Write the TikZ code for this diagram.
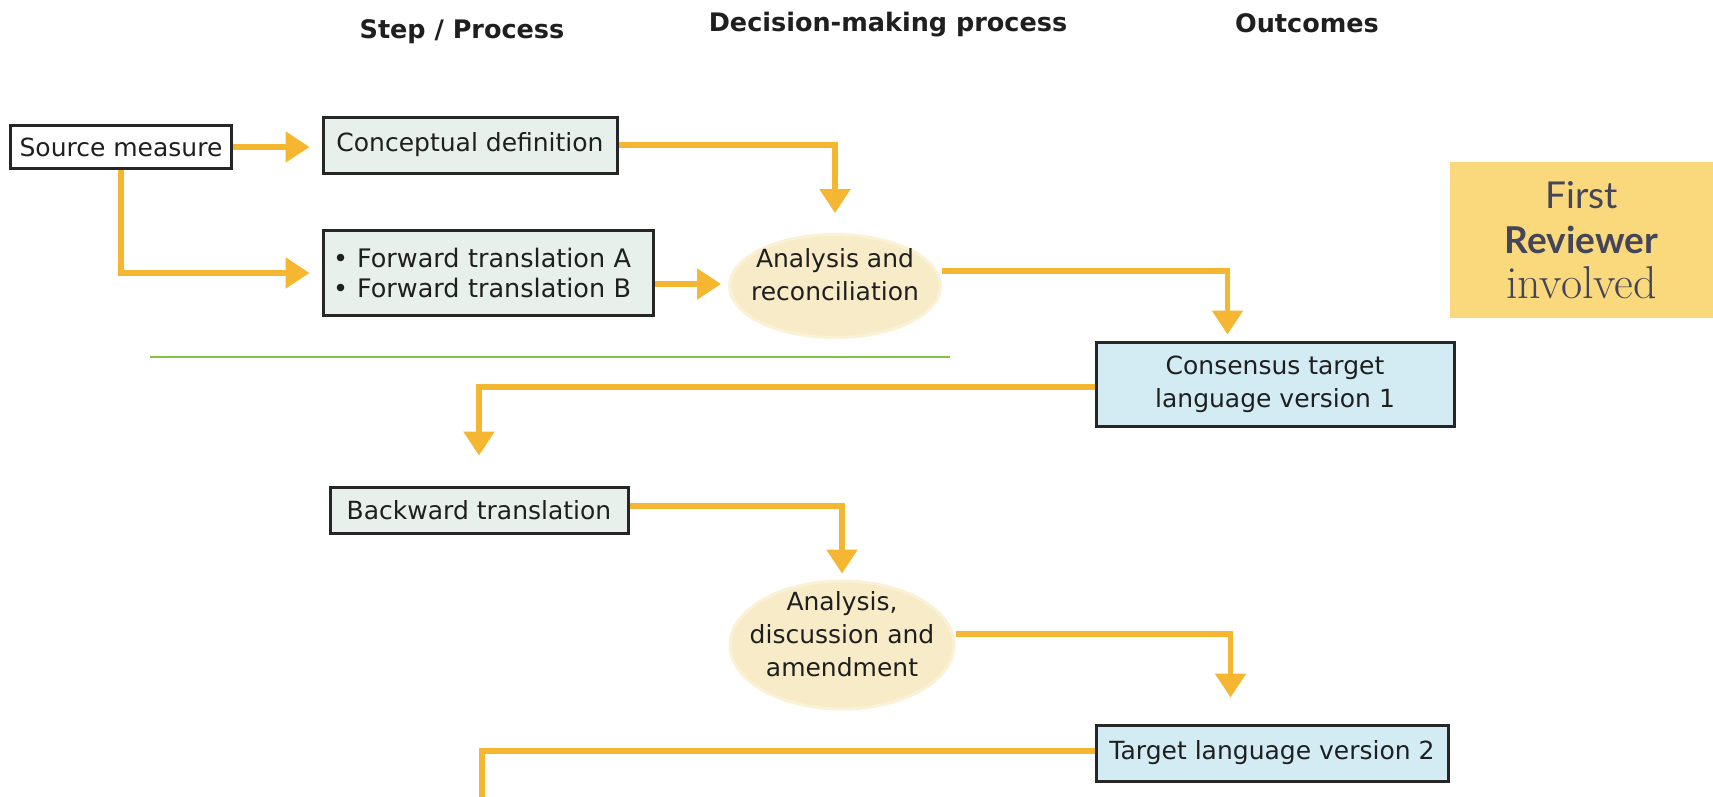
\documentclass[tikz,border=0pt]{standalone}
\usepackage{fontspec}
\newfontfamily\dv{DejaVu Sans}
\newfontfamily\gill{Lato}
\usetikzlibrary{arrows.meta,calc,shapes.geometric}
\definecolor{arr}{HTML}{F5B731}
\definecolor{stepfill}{HTML}{E7F0EB}
\definecolor{outfill}{HTML}{D3ECF4}
\definecolor{ellfill}{HTML}{F8ECC8}
\definecolor{revfill}{HTML}{F9D97C}
\definecolor{revtext}{HTML}{45455A}
\definecolor{grn}{HTML}{84C441}
\begin{document}
\begin{tikzpicture}[x=1pt,y=-1pt,
  body/.style={font=\dv\fontsize{25}{33}\selectfont, text=black!88},
  stepbox/.style={body, draw=black!85, line width=3pt, fill=stepfill, inner sep=0pt},
  outbox/.style={body, draw=black!85, line width=3pt, fill=outfill, inner sep=0pt, align=center},
  decell/.style={ellipse, fill=ellfill, draw=ellfill!75, line width=3pt, inner sep=0pt},
  elltext/.style={body, align=center, inner sep=0pt},
  header/.style={font=\dv\bfseries\fontsize{25.5}{30}\selectfont, text=black!88},
  flow/.style={draw=arr, line width=5.5pt, -{Triangle[width=30pt,length=24pt]}},
  flowline/.style={draw=arr, line width=5.5pt}
]
\useasboundingbox[fill=white] (0,0) rectangle (1713,796);

% headers
\node[header] (h1) at (462,32) {Step / Process};
\node[header] (h2) at (888,25) {Decision-making process};
\node[header] (h3) at (1307,23) {Outcomes};

% nodes
\node[stepbox, fill=white, minimum width=221pt, minimum height=43pt] (src) at (121,147) {Source measure};
\node[stepbox, minimum width=294pt, minimum height=56pt] (cd) at (470,145) {Conceptual definition};
\node[stepbox, font=\dv\fontsize{25.5}{30}\selectfont, text width=310pt, inner xsep=10pt, minimum height=85pt, align=left] (ft) at (488,273)
  {\textbullet\hspace{9pt}Forward translation A\\ \textbullet\hspace{9pt}Forward translation B};
\node[decell, minimum width=211pt, minimum height=103pt] (e1) at (835,286) {};
\node[elltext] (e1t) at (835,275) {Analysis and\\reconciliation};
\node[outbox, minimum width=358pt, minimum height=84pt] (cons) at (1275,384) {Consensus target\\language version 1};
\node[stepbox, minimum width=298pt, minimum height=46pt] (bt) at (479,510) {Backward translation};
\node[decell, minimum width=224pt, minimum height=128pt] (e2) at (842,645) {};
\node[elltext] (e2t) at (842,634) {Analysis,\\discussion and\\amendment};
\node[outbox, minimum width=352pt, minimum height=56pt] (t2) at (1272,753) {Target language version 2};

\node[fill=revfill, minimum width=263pt, minimum height=156pt, inner sep=0pt, align=center, text=revtext,
      font=\fontsize{37}{45}\selectfont] (rev) at (1581.5,240)
  {{\gill First}\\{\gill\bfseries Reviewer}\\{\rmfamily\fontsize{46}{45}\selectfont involved}};

% green rule
\coordinate (g1) at (150,357);
\coordinate (g2) at (950,357);
\draw[grn, line width=1.5pt] (g1) -- (g2);

% connectors
\draw[flow, shorten >=12pt] (src.east) -- (src.east -| cd.west);
\draw[flow, shorten >=12pt] (src.south) |- (ft.west);
\draw[flow, shorten >=20pt] (cd.east) -| (e1.north);
\coordinate (a4) at ($(ft.east)+(0,11)$);
\draw[flow, shorten >=7pt] (a4) -- (a4 -| e1.west);
\coordinate (a5) at ($(e1.east)+(0,-15)$);
\coordinate (c5) at ($(cons.north west)+(133,0)$);
\draw[flow, shorten >=6pt] (a5) -| (c5);
\coordinate (a6) at ($(cons.west)+(0,3)$);
\draw[flow, shorten >=30pt] (a6) -| (bt.north);
\coordinate (a7) at ($(bt.east)+(0,-4)$);
\draw[flow, shorten >=6pt] (a7) -| (e2.north);
\coordinate (a8) at ($(e2.east)+(0,-11)$);
\coordinate (c8) at ($(t2.north west)+(136,0)$);
\draw[flow, shorten >=26pt] (a8) -| (c8);
\coordinate (a9) at ($(t2.west)+(0,-2)$);
\coordinate (c9) at (482,805);
\draw[flowline] (a9) -| (c9);
\end{tikzpicture}
\end{document}
